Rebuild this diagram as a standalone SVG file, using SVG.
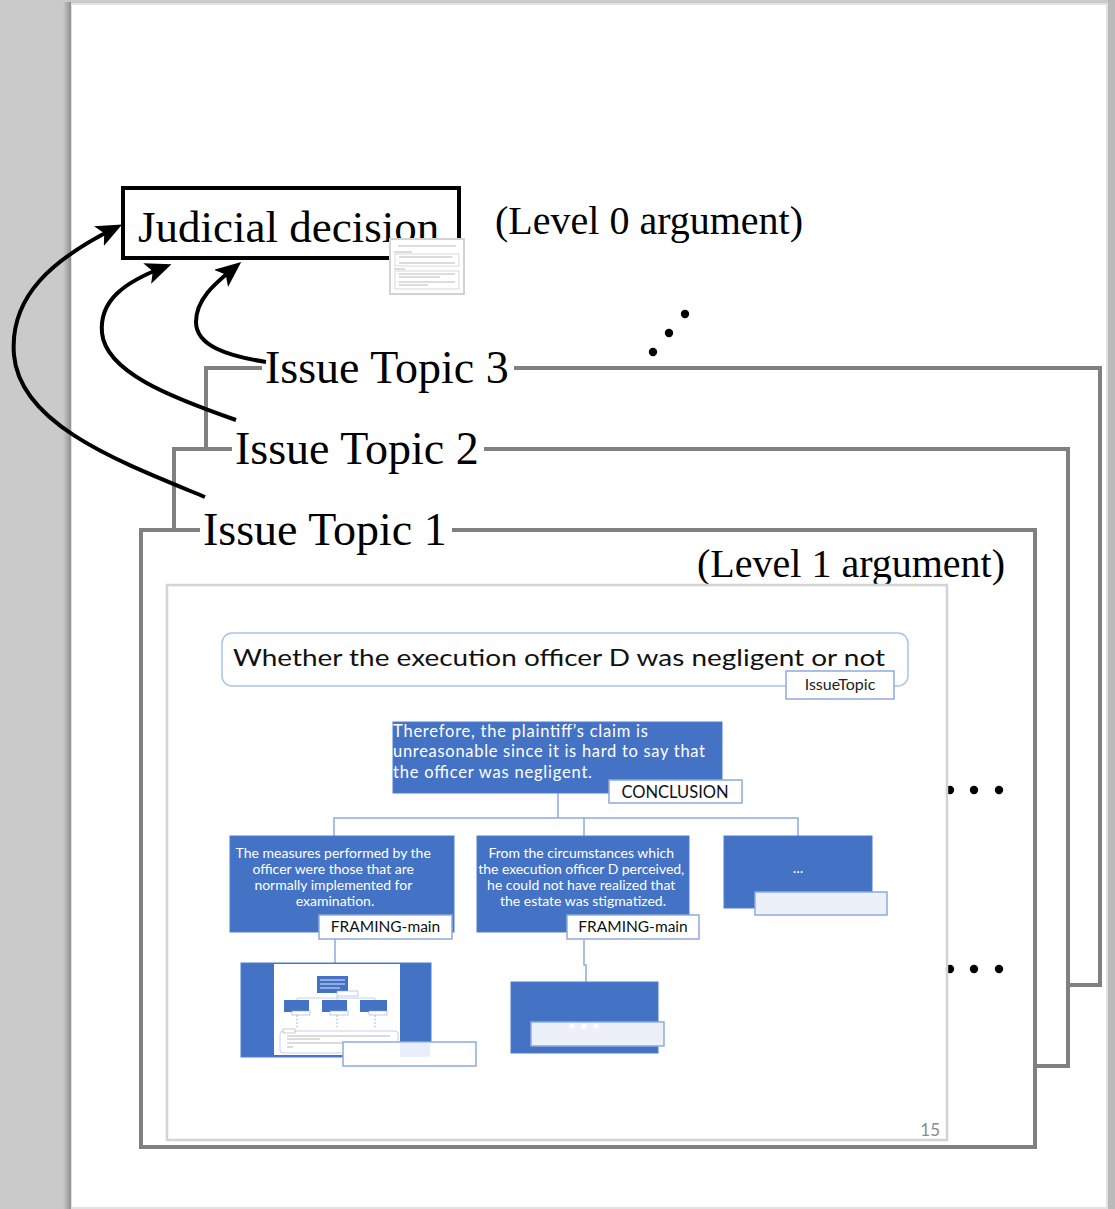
<svg xmlns="http://www.w3.org/2000/svg" width="1115" height="1209" viewBox="0 0 1115 1209">
<style>
.serif{font-family:"Liberation Serif","Times New Roman",serif;fill:#000}
.sans{font-family:Lato,"Open Sans","Liberation Sans",sans-serif}
.frame{fill:none;stroke:#808080;stroke-width:4}
.arrow{fill:none;stroke:#000;stroke-width:4;marker-end:url(#ah)}
.blue{fill:#4472c4;stroke:#4f7fd0;stroke-width:1}
.lbl{fill:#fff;stroke:#8faadc;stroke-width:1.5}
.conn{fill:none;stroke:#8faadc;stroke-width:1.5}
.wt{fill:#fff}
.tiny{stroke:#b8b8b8;stroke-width:1;fill:none}
.tinyw{stroke:#dfe7f5;stroke-width:1;fill:none}
</style>
<defs>
<marker id="ah" viewBox="0 0 26 22" refX="18" refY="11" markerWidth="26" markerHeight="22" orient="auto" markerUnits="userSpaceOnUse">
<path d="M0,0 L26,11 L0,22 L6,11 z" fill="#000"/>
</marker>
<linearGradient id="shL" x1="0" x2="1" y1="0" y2="0">
<stop offset="0" stop-color="#c9cac9"/><stop offset="1" stop-color="#8e8f8e"/>
</linearGradient>
</defs>

<!-- background and page -->
<rect x="0" y="0" width="1115" height="1209" fill="#c9cac9"/>
<rect x="63" y="2" width="8" height="1207" fill="url(#shL)"/>
<rect x="71" y="3" width="1037" height="1206" fill="#e2e2e2"/>
<rect x="72" y="5" width="1034" height="1202" fill="#fff"/>
<rect x="1108" y="0" width="7" height="1209" fill="#b9bab9"/>

<!-- Judicial decision (Level 0) -->
<g id="judicial-decision">
<rect x="123" y="188" width="336" height="70" fill="#fff" stroke="#000" stroke-width="4"/>
<text class="serif" x="138" y="242" font-size="45">Judicial decision</text>
<g id="judicial-thumb">
<rect x="390" y="239" width="74" height="55" fill="#fff" stroke="#d2d2d2" stroke-width="2"/>
<line class="tiny" x1="398" y1="246" x2="456" y2="246" stroke="#9a9a9a"/>
<line class="tiny" x1="394" y1="252" x2="412" y2="252"/>
<rect x="395" y="254" width="64" height="12" fill="none" stroke="#d0d0d0" stroke-width="0.8"/>
<line class="tiny" x1="399" y1="257" x2="452" y2="257"/>
<line class="tiny" x1="399" y1="263" x2="455" y2="263"/>
<line class="tiny" x1="394" y1="269" x2="405" y2="269"/>
<rect x="395" y="271" width="64" height="18" fill="none" stroke="#d0d0d0" stroke-width="0.8"/>
<line class="tiny" x1="399" y1="274" x2="455" y2="274"/>
<line class="tiny" x1="399" y1="277" x2="440" y2="277"/>
<line class="tiny" x1="399" y1="282" x2="455" y2="282"/>
<line class="tiny" x1="399" y1="285" x2="428" y2="285"/>
</g>
</g>
<text class="serif" x="495" y="234" font-size="40">(Level 0 argument)</text>

<!-- diagonal dots -->
<g id="more-topics" fill="#000">
<circle cx="653" cy="352" r="4.2"/>
<circle cx="669" cy="333" r="4.2"/>
<circle cx="685" cy="314" r="4.2"/>
</g>

<!-- Issue Topic 3 -->
<g id="issue-topic-3">
<path class="frame" d="M206,449 V368 H262 M514,368 H1100 V985 H1068"/>
<text class="serif" x="265" y="383" font-size="46">Issue Topic 3</text>
</g>

<!-- Issue Topic 2 -->
<g id="issue-topic-2">
<path class="frame" d="M174,530 V449 H232 M484,449 H1068 V1066 H1036"/>
<text class="serif" x="235" y="464" font-size="46">Issue Topic 2</text>
</g>

<!-- Issue Topic 1 -->
<g id="issue-topic-1">
<path class="frame" d="M200,530 H141 V1147 H1035 V530 H452"/>
<text class="serif" x="203" y="545" font-size="46">Issue Topic 1</text>
<text class="serif" x="697" y="577" font-size="40">(Level 1 argument)</text>
</g>

<!-- right side ellipses -->
<g id="more-nodes" fill="#000">
<circle cx="950" cy="790" r="4.2"/>
<circle cx="974" cy="790" r="4.2"/>
<circle cx="999" cy="790" r="4.2"/>
<circle cx="950" cy="969" r="4.2"/>
<circle cx="974" cy="969" r="4.2"/>
<circle cx="999" cy="969" r="4.2"/>
</g>

<!-- slide -->
<g id="slide">
<rect x="167" y="585" width="780" height="555" fill="none" stroke="#d3d3d3" stroke-width="2.5"/>
<text x="940" y="1136" font-size="17" text-anchor="end" fill="#8a8a8a" font-family="Lato,'Open Sans','Liberation Sans',sans-serif">15</text>
</g>

<!-- slide connectors -->
<g id="connectors">
<path class="conn" d="M558,793 V818 M334,836 V818 H798 V836 M584,818 V836"/>
<path class="conn" d="M335,939 V963"/>
<path class="conn" d="M584,939 V965 H586 V982"/>
</g>

<g id="issue-topic-box">
<rect x="222" y="633" width="686" height="53" rx="10" fill="#fff" stroke="#a9c4eb" stroke-width="1.5"/>
<text class="sans" x="233" y="666" font-size="24" fill="#111" textLength="652" lengthAdjust="spacingAndGlyphs">Whether the execution officer D was negligent or not</text>
<rect class="lbl" x="786" y="671" width="108" height="28"/>
<text class="sans" x="840" y="690" font-size="16" text-anchor="middle" fill="#222">IssueTopic</text>
</g>

<g id="conclusion">
<rect class="blue" x="393" y="722" width="329" height="71"/>
<text class="sans wt" font-size="16.5">
<tspan x="393" y="737" textLength="255">Therefore, the plaintiff’s claim is</tspan>
<tspan x="393" y="757" textLength="312">unreasonable since it is hard to say that</tspan>
<tspan x="393" y="778" textLength="199">the officer was negligent.</tspan>
</text>
<rect class="lbl" x="609" y="780" width="133" height="23"/>
<text class="sans" x="675" y="798" font-size="16.5" text-anchor="middle" fill="#111">CONCLUSION</text>
</g>

<g id="framing-1">
<rect class="blue" x="230" y="836" width="224" height="96"/>
<text class="sans wt" font-size="14" text-anchor="middle">
<tspan x="335" y="858">The measures performed by the</tspan>
<tspan x="335" y="874">officer were those that are</tspan>
<tspan x="335" y="890">normally implemented for</tspan>
<tspan x="335" y="906">examination.</tspan>
</text>
<rect class="lbl" x="319" y="915" width="133" height="24"/>
<text class="sans" x="385.5" y="932" font-size="15.5" text-anchor="middle" fill="#111">FRAMING-main</text>
</g>

<g id="framing-2">
<rect class="blue" x="477" y="836" width="212" height="96"/>
<text class="sans wt" font-size="14" text-anchor="middle">
<tspan x="583" y="858">From the circumstances which</tspan>
<tspan x="583" y="874" textLength="206">the execution officer D perceived,</tspan>
<tspan x="583" y="890">he could not have realized that</tspan>
<tspan x="583" y="906">the estate was stigmatized.</tspan>
</text>
<rect class="lbl" x="567" y="915" width="132" height="24"/>
<text class="sans" x="633" y="932" font-size="15.5" text-anchor="middle" fill="#111">FRAMING-main</text>
</g>

<g id="node-3">
<rect class="blue" x="724" y="836" width="148" height="72"/>
<text class="sans wt" x="798" y="873" font-size="15" text-anchor="middle">...</text>
<rect x="755" y="892" width="132" height="23" fill="#ebf0f9" stroke="#8faadc" stroke-width="1.5"/>
</g>

<g id="sub-slide-thumb">
<rect class="blue" x="241" y="963" width="190" height="94"/>
<rect x="274" y="964" width="126" height="91" fill="#fff"/>
<rect x="317" y="976" width="31" height="17" fill="#4472c4"/>
<line class="tinyw" x1="320" y1="980" x2="345" y2="980"/>
<line class="tinyw" x1="320" y1="984" x2="345" y2="984"/>
<line class="tinyw" x1="320" y1="988" x2="340" y2="988"/>
<rect x="337" y="991" width="21" height="5" fill="#fff" stroke="#8faadc" stroke-width="0.6"/>
<path d="M297,1000 V998 H375 V1000 M337,996 V1000" fill="none" stroke="#b4c7e7" stroke-width="0.8"/>
<rect x="284" y="1000" width="25" height="12" fill="#4472c4"/>
<rect x="322" y="1000" width="25" height="12" fill="#4472c4"/>
<rect x="360" y="1000" width="27" height="12" fill="#4472c4"/>
<rect x="292" y="1011" width="18" height="4" fill="#fff" stroke="#8faadc" stroke-width="0.6"/>
<rect x="330" y="1011" width="18" height="4" fill="#fff" stroke="#8faadc" stroke-width="0.6"/>
<rect x="369" y="1011" width="18" height="4" fill="#fff" stroke="#8faadc" stroke-width="0.6"/>
<path d="M297,1015 V1028 M337,1015 V1028 M375,1015 V1028" fill="none" stroke="#8faadc" stroke-width="0.8" stroke-dasharray="2,1.5"/>
<rect x="280" y="1031" width="118" height="22" rx="3" fill="#fff" stroke="#b4c7e7" stroke-width="0.8"/>
<rect x="283" y="1029" width="12" height="4" fill="#fff" stroke="#999" stroke-width="0.5"/>
<line class="tiny" x1="287" y1="1036" x2="390" y2="1036" stroke="#999" stroke-width="0.8"/>
<line class="tiny" x1="287" y1="1039" x2="320" y2="1039" stroke="#999" stroke-width="0.8"/>
<line class="tiny" x1="287" y1="1043" x2="360" y2="1043" stroke="#999" stroke-width="0.8"/>
<line class="tiny" x1="287" y1="1047" x2="293" y2="1047" stroke="#999" stroke-width="0.8"/>
<rect class="lbl" x="343" y="1042" width="133" height="24"/>
<rect x="400" y="1042.8" width="30.3" height="14" fill="#e9eef8"/>
</g>

<g id="node-5">
<rect class="blue" x="511" y="982" width="147" height="71"/>
<rect x="531" y="1022" width="133" height="24" fill="#ebf0f9" stroke="#8faadc" stroke-width="1.5"/>
<circle cx="572" cy="1026" r="2.6" fill="#fff"/>
<circle cx="584" cy="1026" r="2.6" fill="#fff"/>
<circle cx="596" cy="1026" r="2.6" fill="#fff"/>
</g>

<!-- arrows from issue topics to judicial decision -->
<g id="arrows">
<path class="arrow" d="M205,497 C120,462 20,425 14,355 C9,295 55,258 115,228"/>
<path class="arrow" d="M236,420 C170,397 106,372 102,333 C99,300 125,282 164,267"/>
<path class="arrow" d="M266,362 C228,356 196,346 196,322 C196,300 213,285 235,267"/>
</g>
</svg>
